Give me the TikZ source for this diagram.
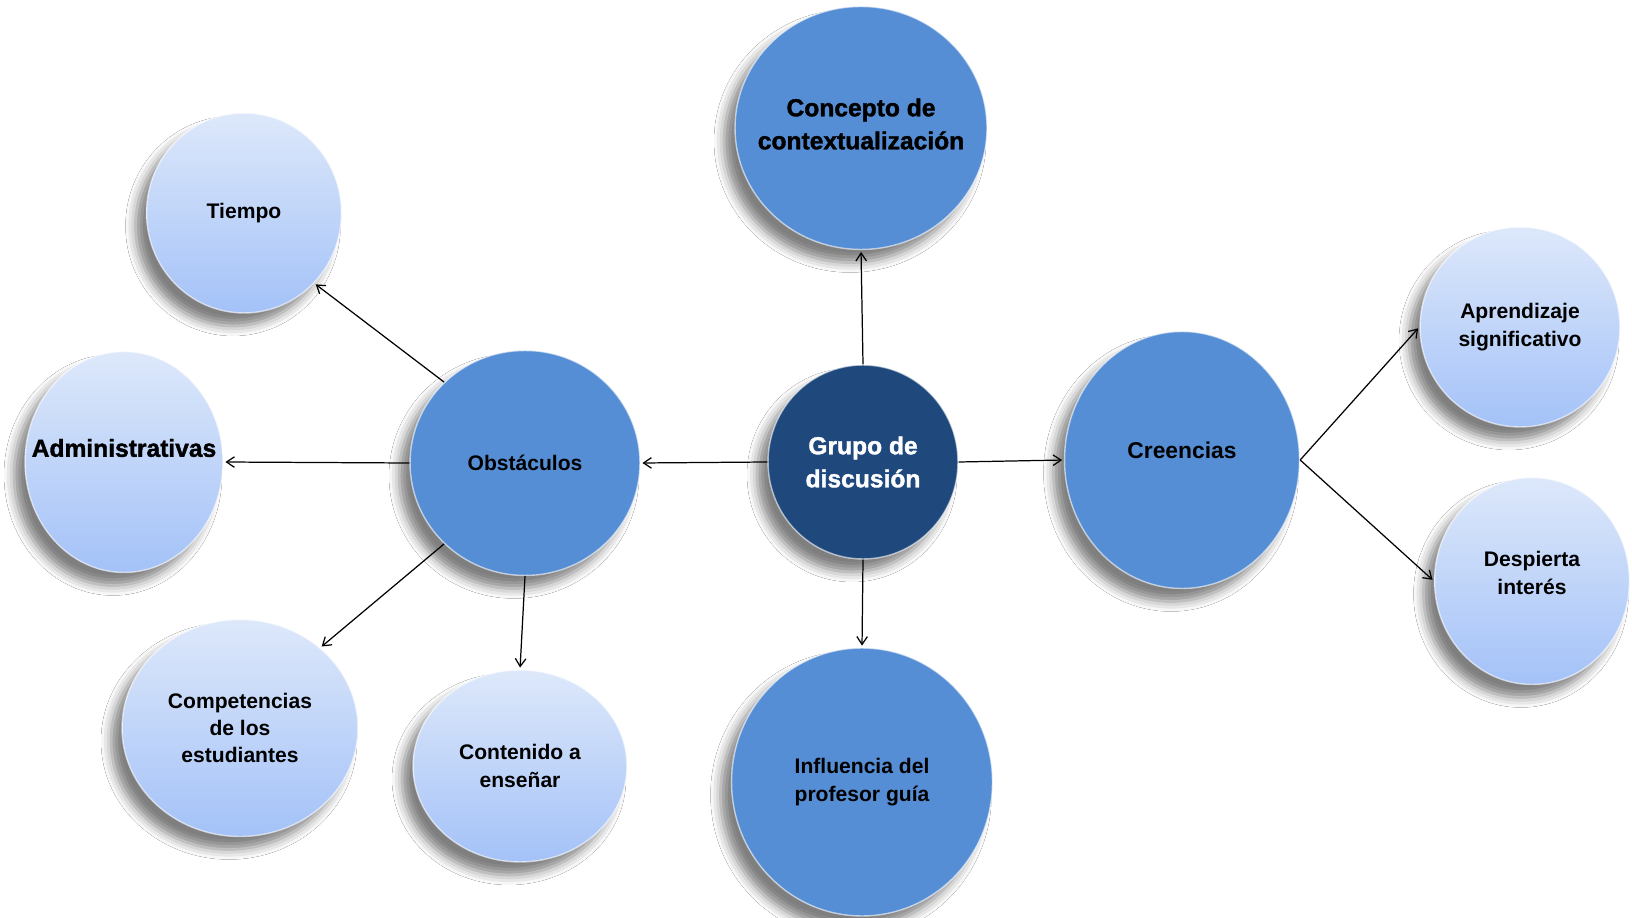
\documentclass[tikz,border=0pt]{standalone}
\usepackage{fontspec}
\setmainfont{Liberation Sans}
\newfontfamily\heavyfont[FakeBold=1.5]{Liberation Sans Bold}
\usetikzlibrary{shapes.geometric, shadows.blur, arrows.meta}

\definecolor{darkblue}{HTML}{1F497D}
\definecolor{midblue}{HTML}{558ED5}
\definecolor{lighttop}{HTML}{DDE8FA}
\definecolor{lightbottom}{HTML}{A4C2F8}

\begin{document}
\begin{tikzpicture}[x=0.02cm, y=-0.02cm,
    bubble/.style={ellipse, inner sep=0pt, draw=white, draw opacity=0.6, line width=0.8pt,
        blur shadow={shadow xshift=-0.22cm, shadow yshift=-0.26cm, shadow blur radius=0.2cm, shadow opacity=50}},
    midbubble/.style={bubble, fill=midblue},
    lightbubble/.style={bubble, top color=lighttop, bottom color=lightbottom},
    heavytext/.style={align=center, inner sep=0pt, font={\heavyfont\fontsize{14}{18.8}\selectfont}},
    smalltext/.style={align=center, inner sep=0pt, font={\bfseries\fontsize{12}{15.5}\selectfont}},
    arr/.style={-{Straight Barb[length=4.5pt, width=6pt]}, line width=0.7pt, shorten >=1pt}]
\useasboundingbox (0,0) rectangle (1632,918);
\fill[white] (0,0) rectangle (1632,918);

% centre
\node[bubble, fill=darkblue, minimum width=3.8cm, minimum height=3.88cm,
    label={[heavytext, text=white]center:Grupo de\\discusión}] (grupo) at (863,462) {};

% first ring
\node[midbubble, minimum width=5.04cm, minimum height=4.86cm,
    label={[heavytext, yshift=0.08cm]center:Concepto de\\contextualización}] (concepto) at (861,128) {};
\node[midbubble, minimum width=4.6cm, minimum height=4.5cm,
    label={[smalltext]center:Obstáculos}] (obst) at (525,463) {};
\node[midbubble, minimum width=4.7cm, minimum height=5.14cm,
    label={[smalltext, font={\bfseries\fontsize{13}{16}\selectfont}, yshift=0.2cm]center:Creencias}] (creencias) at (1182,460) {};
\node[midbubble, minimum width=5.22cm, minimum height=5.36cm,
    label={[smalltext]center:Influencia del\\profesor guía}] (influencia) at (862,782) {};

% obstaculos
\node[lightbubble, minimum width=3.9cm, minimum height=4cm,
    label={[smalltext]center:Tiempo}] (tiempo) at (244,213) {};
\node[lightbubble, minimum width=3.96cm, minimum height=4.42cm,
    label={[heavytext, yshift=0.28cm]center:Administrativas}] (admin) at (124,462) {};
\node[lightbubble, minimum width=4.72cm, minimum height=4.34cm,
    label={[smalltext]center:Competencias\\de los\\estudiantes}] (compet) at (240,728) {};
\node[lightbubble, minimum width=4.28cm, minimum height=3.84cm,
    label={[smalltext]center:Contenido a\\enseñar}] (contenido) at (520,766) {};

% creencias
\node[lightbubble, minimum width=4cm, minimum height=4cm,
    label={[smalltext]center:Aprendizaje\\significativo}] (aprend) at (1520,327) {};
\node[lightbubble, minimum width=3.9cm, minimum height=4.14cm,
    label={[smalltext, yshift=0.16cm]center:Despierta\\interés}] (despierta) at (1532,581) {};

\draw[arr] (grupo.north) -- (concepto.south);
\draw[arr] (grupo.west) -- (obst.east);
\draw[arr] (grupo.east) -- (creencias.west);
\draw[arr] (grupo.south) -- (influencia.north);

\draw[arr] (obst.135) -- (tiempo.-45);
\draw[arr] (obst.west) -- (admin.east);
\draw[arr] (obst.225) -- (compet.45);
\draw[arr] (obst.south) -- (contenido.north);

\draw[arr] (creencias.east) -- (aprend.west);
\draw[arr] (creencias.east) -- (despierta.west);

\end{tikzpicture}
\end{document}
